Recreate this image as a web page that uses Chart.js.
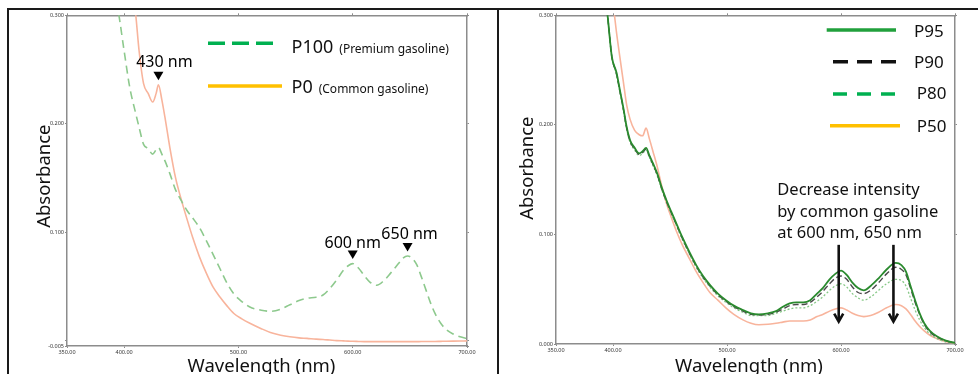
<!DOCTYPE html>
<html>
<head>
<meta charset="utf-8">
<style>
html,body{margin:0;padding:0;background:#fff;width:978px;height:374px;overflow:hidden;position:relative;}
.ln{position:absolute;background:#1a1a1a;}
#cw1{position:absolute;left:10px;top:11px;width:487px;height:363px;}
#cw2{position:absolute;left:500px;top:11px;width:478px;height:363px;}
</style>
<script src="https://cdn.jsdelivr.net/npm/chart.js@4/dist/chart.umd.min.js"></script>
</head>
<body>
<div class="ln" style="left:7px;top:8px;width:971px;height:2px;"></div>
<div class="ln" style="left:7px;top:8px;width:2px;height:366px;"></div>
<div class="ln" style="left:497px;top:8px;width:2px;height:366px;"></div>
<div id="cw1"><canvas id="c1" width="487" height="363"></canvas></div>
<div id="cw2"><canvas id="c2" width="478" height="363"></canvas></div>
<script>
// ---------- data: left panel ----------
const wlL = [385,390,395,400,405,410,413,417,421,425,428,430,433,436,440,445,450,455,460,466,472,478,484,490,496,503,510,520,528,537,545,553,560,568,574,580,586,592,596,600,605,610,615,621,627,633,640,644,648,652,656,660,664,668,672,677,682,688,694,700];
const p0 = [0.52,0.48,0.43,0.38,0.34,0.302,0.268,0.237,0.228,0.220,0.228,0.236,0.222,0.204,0.178,0.150,0.130,0.112,0.095,0.077,0.062,0.049,0.040,0.032,0.025,0.020,0.016,0.011,0.0075,0.005,0.0035,0.0025,0.002,0.0013,0.001,0.0005,0,-0.0003,-0.0005,-0.0006,-0.0008,-0.001,-0.001,-0.001,-0.001,-0.001,-0.001,-0.001,-0.001,-0.001,-0.001,-0.0009,-0.0009,-0.0008,-0.0008,-0.0007,-0.0006,-0.0005,-0.0004,-0.0003];
const p100 = [0.36,0.33,0.303,0.267,0.233,0.210,0.197,0.181,0.177,0.172,0.176,0.178,0.172,0.165,0.154,0.139,0.129,0.120,0.113,0.104,0.092,0.079,0.066,0.053,0.043,0.036,0.031,0.028,0.027,0.029,0.033,0.037,0.039,0.040,0.042,0.048,0.056,0.065,0.069,0.071,0.067,0.060,0.054,0.051,0.055,0.062,0.071,0.076,0.078,0.076,0.070,0.059,0.047,0.035,0.025,0.016,0.010,0.006,0.0035,0.002];

// ---------- data: right panel ----------
const wlR = [385,390,395,399,403,406,409,412,415,419,423,426,429,432,435,439,443,447,451,456,461,467,473,479,485,492,499,506,514,521,528,536,543,549,555,561,567,573,579,584,590,595,600,605,610,615,620,626,633,640,648,653,657,661,665,669,673,678,684,692,700];
const p95 = [0.37,0.34,0.302,0.262,0.248,0.232,0.216,0.198,0.186,0.179,0.174,0.176,0.179,0.172,0.165,0.155,0.142,0.131,0.121,0.109,0.097,0.084,0.072,0.062,0.054,0.046,0.040,0.035,0.031,0.028,0.027,0.028,0.030,0.034,0.037,0.038,0.038,0.040,0.046,0.051,0.059,0.064,0.067,0.063,0.056,0.051,0.049,0.053,0.060,0.068,0.074,0.072,0.066,0.053,0.040,0.028,0.019,0.012,0.007,0.003,0.001];
const p90 = [0.37,0.34,0.302,0.262,0.247,0.231,0.215,0.197,0.185,0.178,0.173,0.175,0.178,0.171,0.164,0.154,0.141,0.130,0.120,0.108,0.096,0.083,0.071,0.061,0.053,0.045,0.039,0.034,0.030,0.027,0.0265,0.027,0.029,0.032,0.035,0.036,0.036,0.038,0.043,0.048,0.055,0.060,0.062,0.059,0.052,0.047,0.046,0.049,0.056,0.064,0.070,0.068,0.063,0.051,0.038,0.027,0.018,0.011,0.0065,0.003,0.001];
const p80 = [0.37,0.34,0.302,0.262,0.246,0.230,0.214,0.196,0.184,0.177,0.172,0.174,0.177,0.170,0.163,0.153,0.140,0.129,0.119,0.107,0.095,0.082,0.070,0.060,0.052,0.044,0.038,0.033,0.029,0.026,0.026,0.026,0.028,0.030,0.032,0.033,0.033,0.035,0.039,0.043,0.049,0.053,0.055,0.052,0.046,0.042,0.040,0.043,0.049,0.055,0.059,0.058,0.053,0.042,0.031,0.022,0.015,0.009,0.005,0.002,0.001];
const p50 = [0.45,0.42,0.36,0.32,0.285,0.262,0.240,0.218,0.205,0.195,0.191,0.190,0.197,0.187,0.176,0.161,0.143,0.128,0.116,0.102,0.090,0.078,0.066,0.056,0.047,0.040,0.033,0.027,0.022,0.019,0.0176,0.018,0.019,0.020,0.021,0.021,0.021,0.022,0.025,0.027,0.030,0.032,0.033,0.031,0.028,0.026,0.025,0.026,0.029,0.033,0.036,0.035,0.032,0.027,0.021,0.016,0.012,0.008,0.005,0.002,0.001];

// ---------- ticks & texts ----------
const xTicks = [350, 400, 500, 600, 700];
const yTicksL = [-0.005, 0, 0.1, 0.2, 0.3];
const yTickLabelsL = ['-0.005', '', '0.100', '0.200', '0.300'];
const yTicksR = [0, 0.1, 0.2, 0.3];
const yTickLabelsR = ['0.000', '0.100', '0.200', '0.300'];
const peakNm = [430, 600, 648];
const peakLabels = ['430 nm', '600 nm', '650 nm'];
const arrowNm = [598, 646];
const noteLines = ['Decrease intensity', 'by common gasoline', 'at 600 nm, 650 nm'];

Chart.defaults.font.family = '"Noto Sans", "Open Sans", sans-serif';
Chart.defaults.color = '#333';
const FF = '"Noto Sans", "Open Sans", sans-serif';

function interp(xs, ys, x) {
  for (let i = 0; i < xs.length - 1; i++) {
    if (x >= xs[i] && x <= xs[i+1]) {
      const t = (x - xs[i]) / (xs[i+1] - xs[i]);
      return ys[i] + t * (ys[i+1] - ys[i]);
    }
  }
  return ys[ys.length-1];
}
function pts(xs, ys) { return xs.map((x, i) => ({x: x, y: ys[i]})); }

function makeScales(ymin, ymax, yT, yL, yW, xH) {
  const border = {color: '#8c8c8c', width: 1.5};
  const grid = {drawOnChartArea: false, tickLength: 2, color: '#8c8c8c', lineWidth: 1};
  const xt = s => { s.ticks = xTicks.map(v => ({value: v})); };
  const yt = s => { s.ticks = yT.map(v => ({value: v})); };
  return {
    x: {type: 'linear', position: 'bottom', min: 350, max: 700, afterBuildTicks: xt,
        ticks: {autoSkip: false, maxRotation: 0, padding: 1, color: '#333', font: {size: 5.5}, callback: v => Number(v).toFixed(2)},
        grid: grid, border: border, afterFit: s => { s.height = xH; }},
    x2: {type: 'linear', position: 'top', min: 350, max: 700, afterBuildTicks: xt,
        ticks: {display: false}, grid: grid, border: border, afterFit: s => { s.height = 2; }},
    y: {type: 'linear', position: 'left', min: ymin, max: ymax, afterBuildTicks: yt,
        ticks: {autoSkip: false, padding: 1, color: '#333', font: {size: 5.5}, callback: (v, i) => yL[i]},
        grid: grid, border: border, afterFit: s => { s.width = yW; }},
    y2: {type: 'linear', position: 'right', min: ymin, max: ymax, afterBuildTicks: yt,
        ticks: {display: false}, grid: grid, border: border, afterFit: s => { s.width = 2; }}
  };
}

function drawAxisTitles(ctx, a, dxT, dyT, dxA, dyA) {
  ctx.fillStyle = '#111';
  ctx.font = '18.5px ' + FF;
  ctx.textAlign = 'center';
  ctx.textBaseline = 'alphabetic';
  ctx.fillText('Wavelength (nm)', (a.left + a.right) / 2 + dxT, a.bottom + dyT);
  ctx.save();
  ctx.translate(a.left + dxA, (a.top + a.bottom) / 2 + dyA);
  ctx.rotate(-Math.PI / 2);
  ctx.fillText('Absorbance', 0, 0);
  ctx.restore();
}

function legendLine(ctx, x0, x1, y, color, dash) {
  ctx.save();
  ctx.strokeStyle = color;
  ctx.lineWidth = 3.5;
  ctx.setLineDash(dash);
  ctx.beginPath(); ctx.moveTo(x0, y); ctx.lineTo(x1, y); ctx.stroke();
  ctx.restore();
}

const decoL = {
  id: 'decoL',
  afterDraw(chart) {
    const ctx = chart.ctx, a = chart.chartArea, x = chart.scales.x, y = chart.scales.y;
    ctx.save();
    const src = [p0, p100, p100];
    const tdx = [6, 0, 2];
    const tdy = [-9, -6.5, -8.5];
    peakNm.forEach((nm, i) => {
      const px = x.getPixelForValue(nm);
      const py = y.getPixelForValue(interp(wlL, src[i], nm)) - 9;
      ctx.fillStyle = '#000';
      ctx.beginPath();
      ctx.moveTo(px - 5, py - 4); ctx.lineTo(px + 5, py - 4); ctx.lineTo(px, py + 4.5);
      ctx.closePath(); ctx.fill();
      ctx.font = '16px ' + FF;
      ctx.textAlign = 'center'; ctx.textBaseline = 'alphabetic';
      ctx.fillText(peakLabels[i], px + tdx[i], py + tdy[i]);
    });
    // legend
    legendLine(ctx, 198, 264, 32.3, '#00b050', [17, 7]);
    legendLine(ctx, 198, 272, 75, '#ffc000', []);
    ctx.fillStyle = '#111';
    ctx.textAlign = 'left'; ctx.textBaseline = 'alphabetic';
    ctx.font = '18px ' + FF;
    ctx.fillText('P100', 281.5, 41.7);
    let w = ctx.measureText('P100').width;
    ctx.fillText('P0', 281.5, 82.3);
    let w2 = ctx.measureText('P0').width;
    ctx.font = '12px ' + FF;
    ctx.fillText('(Premium gasoline)', 281.5 + w + 6, 41.7);
    ctx.fillText('(Common gasoline)', 281.5 + w2 + 6, 82.3);
    drawAxisTitles(ctx, a, -5.5, 25.8, -17.5, -4.5);
    ctx.restore();
  }
};

const decoR = {
  id: 'decoR',
  afterDraw(chart) {
    const ctx = chart.ctx, a = chart.chartArea, x = chart.scales.x, y = chart.scales.y;
    ctx.save();
    // arrows
    arrowNm.forEach(nm => {
      const px = x.getPixelForValue(nm);
      const top = y.getPixelForValue(0.0905);
      const tip = y.getPixelForValue(0.0205);
      ctx.strokeStyle = '#111';
      ctx.lineWidth = 2.6;
      ctx.beginPath(); ctx.moveTo(px, top); ctx.lineTo(px, tip - 1); ctx.stroke();
      ctx.beginPath(); ctx.moveTo(px - 4.5, tip - 8); ctx.lineTo(px, tip); ctx.lineTo(px + 4.5, tip - 8); ctx.stroke();
    });
    // note
    ctx.fillStyle = '#111';
    ctx.font = '16.5px ' + FF;
    ctx.textAlign = 'left'; ctx.textBaseline = 'alphabetic';
    const bl = [184, 205.5, 227];
    noteLines.forEach((t, i) => ctx.fillText(t, 277.3, bl[i]));
    // legend
    legendLine(ctx, 326.7, 396, 19, '#21a03c', []);
    legendLine(ctx, 333, 396, 50.7, '#111', [15, 9]);
    legendLine(ctx, 333, 396, 83, '#00b050', [14, 10]);
    legendLine(ctx, 330, 400, 114.7, '#ffc000', []);
    ctx.font = '17px ' + FF;
    ctx.fillStyle = '#111';
    ctx.fillText('P95', 414, 26.3);
    ctx.fillText('P90', 414, 56.7);
    ctx.fillText('P80', 416.7, 88);
    ctx.fillText('P50', 416.7, 120.7);
    drawAxisTitles(ctx, a, -6.5, 27.5, -23, -11.5);
    ctx.restore();
  }
};

const common = {
  responsive: false, animation: false, devicePixelRatio: 1,
  plugins: {legend: {display: false}, tooltip: {enabled: false}},
  elements: {point: {radius: 0}, line: {tension: 0.4, cubicInterpolationMode: 'monotone'}}
};

new Chart(document.getElementById('c1'), {
  type: 'line',
  data: {datasets: [
    {label: 'P100 (Premium gasoline)', data: pts(wlL, p100), borderColor: '#8dc98d', borderWidth: 1.6, borderDash: [8, 5], fill: false},
    {label: 'P0 (Common gasoline)', data: pts(wlL, p0), borderColor: '#f8b49c', borderWidth: 1.6, fill: false}
  ]},
  options: Object.assign({}, common, {
    layout: {padding: {top: 2, right: 28, left: 0, bottom: 0}},
    scales: makeScales(-0.005, 0.3, yTicksL, yTickLabelsL, 57, 28)
  }),
  plugins: [decoL]
});

new Chart(document.getElementById('c2'), {
  type: 'line',
  data: {datasets: [
    {label: 'P95', data: pts(wlR, p95), borderColor: '#2a8a2e', borderWidth: 1.8, fill: false},
    {label: 'P90', data: pts(wlR, p90), borderColor: '#4a4a4a', borderWidth: 1.4, borderDash: [6, 3], fill: false},
    {label: 'P80', data: pts(wlR, p80), borderColor: '#86c886', borderWidth: 1.3, borderDash: [2, 2], fill: false},
    {label: 'P50', data: pts(wlR, p50), borderColor: '#f8b49c', borderWidth: 1.6, fill: false}
  ]},
  options: Object.assign({}, common, {
    layout: {padding: {top: 2, right: 21, left: 0, bottom: 0}},
    scales: makeScales(0, 0.3, yTicksR, yTickLabelsR, 56, 30)
  }),
  plugins: [decoR]
});
</script>
</body>
</html>
